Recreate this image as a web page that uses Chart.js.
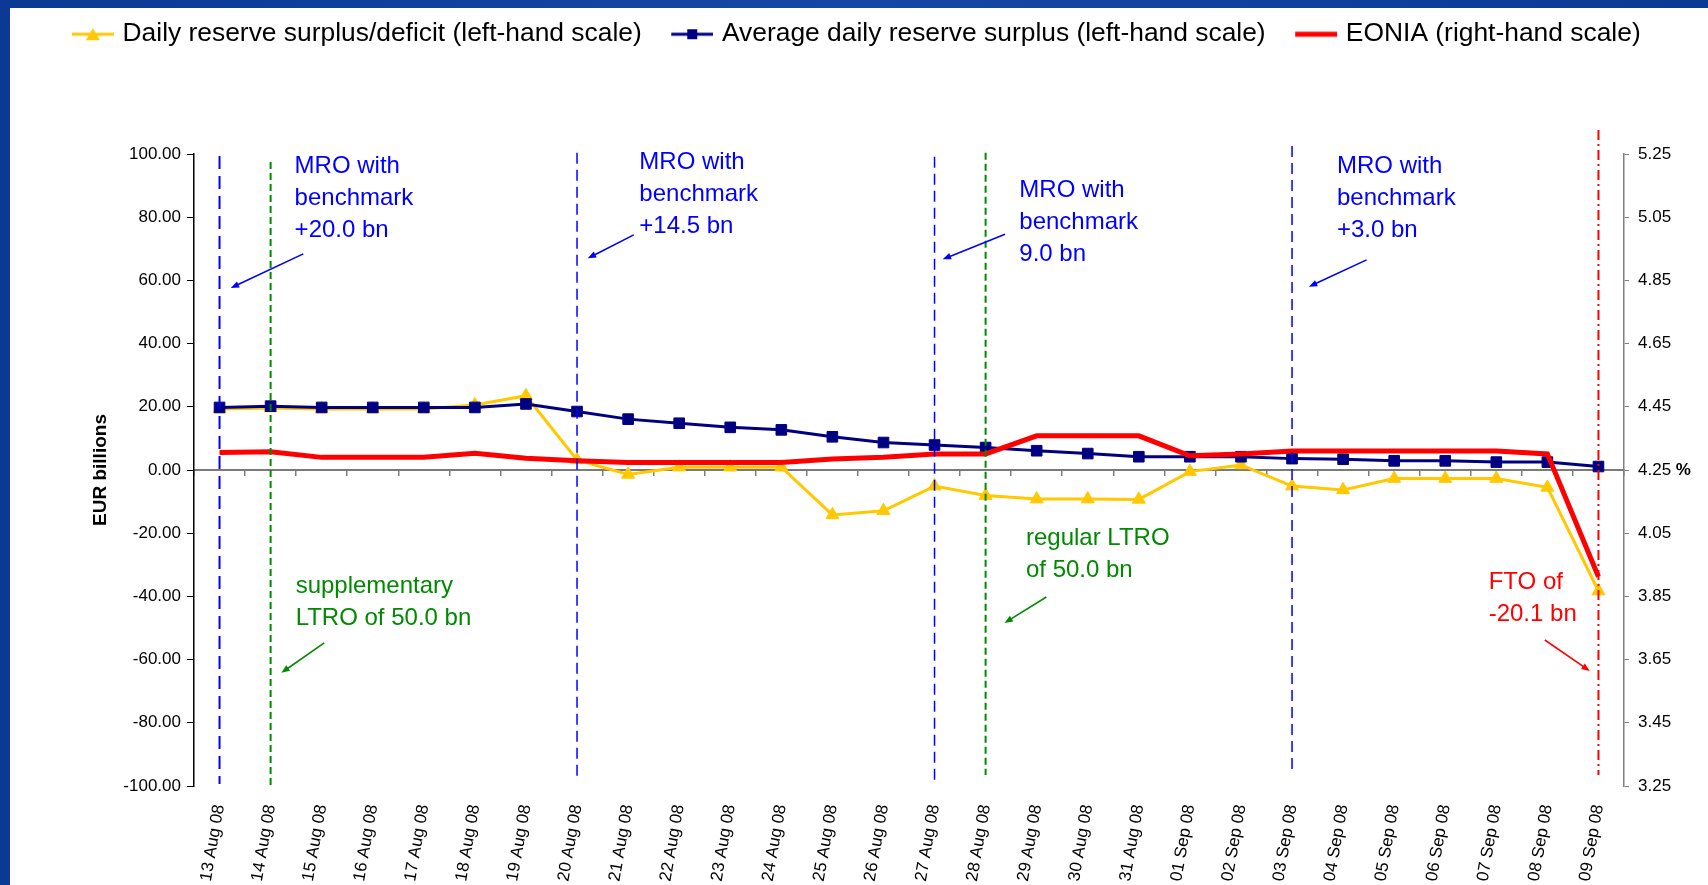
<!DOCTYPE html>
<html>
<head>
<meta charset="utf-8">
<script src="https://cdn.jsdelivr.net/npm/chart.js@4.4.1/dist/chart.umd.min.js"></script>
<style>
  html, body { margin: 0; padding: 0; }
  body {
    width: 1708px;
    height: 885px;
    overflow: hidden;
    background: linear-gradient(90deg, #0b3994, #1747a6 50%, #0b3994);
  }
  #panel {
    position: absolute;
    left: 10px;
    top: 8px;
    width: 1698px;
    height: 877px;
    background: #ffffff;
  }
  canvas { display: block; }
</style>
</head>
<body>
<div id="panel"><canvas id="reserve-chart" width="1698" height="877"></canvas></div>
<script>
const FONT = '"Liberation Sans", Arial, Helvetica, sans-serif';

const dateLabels = [
  "13 Aug 08", "14 Aug 08", "15 Aug 08", "16 Aug 08", "17 Aug 08", "18 Aug 08",
  "19 Aug 08", "20 Aug 08", "21 Aug 08", "22 Aug 08", "23 Aug 08", "24 Aug 08",
  "25 Aug 08", "26 Aug 08", "27 Aug 08", "28 Aug 08", "29 Aug 08", "30 Aug 08",
  "31 Aug 08", "01 Sep 08", "02 Sep 08", "03 Sep 08", "04 Sep 08", "05 Sep 08",
  "06 Sep 08", "07 Sep 08", "08 Sep 08", "09 Sep 08",
];

// EUR billions
const dailySurplus = [
  19.3, 19.6, 19.3, 19.3, 19.3, 20.6, 23.5, 3.2, -1.4, 0.9, 0.9, 0.9,
  -14.2, -12.9, -5.1, -8.1, -9.2, -9.2, -9.3, -0.5, 1.6, -5.1, -6.3, -2.7,
  -2.7, -2.7, -5.5, -38.3,
];
const averageSurplus = [
  19.8, 20.2, 19.8, 19.8, 19.8, 19.8, 20.9, 18.5, 16.1, 14.8, 13.5, 12.7,
  10.5, 8.7, 7.9, 7.1, 6.1, 5.2, 4.2, 4.2, 4.2, 3.6, 3.4, 2.9,
  2.9, 2.5, 2.5, 1.1,
];
// percent
const eoniaRate = [
  4.305, 4.308, 4.29, 4.29, 4.29, 4.303, 4.287, 4.279, 4.274, 4.274, 4.274, 4.274,
  4.285, 4.29, 4.301, 4.301, 4.358, 4.358, 4.358, 4.295, 4.301, 4.31, 4.31, 4.31,
  4.31, 4.31, 4.301, 3.912,
];

const leftTicks = [-100, -80, -60, -40, -20, 0, 20, 40, 60, 80, 100];
const rightTicks = [3.25, 3.45, 3.65, 3.85, 4.05, 4.25, 4.45, 4.65, 4.85, 5.05, 5.25];

const BLUE = "#0000FF";
const GREEN = "#008A00";
const RED = "#FF0000";

// vertical event lines: date, top and bottom in left-axis units
const eventLines = [
  { date: "13 Aug 08", top: 99.4, bottom: -99.4, color: BLUE, dash: [13, 7], width: 2 },
  { date: "14 Aug 08", top: 97.5, bottom: -99.7, color: GREEN, dash: [7, 4], width: 2 },
  { date: "20 Aug 08", top: 100.4, bottom: -98.6, color: BLUE, dash: [11, 6], width: 1.5 },
  { date: "27 Aug 08", top: 99.1, bottom: -99, color: BLUE, dash: [11, 6], width: 1.5 },
  { date: "28 Aug 08", top: 100.4, bottom: -96.5, color: GREEN, dash: [7, 4], width: 2 },
  { date: "03 Sep 08", top: 102.5, bottom: -95.9, color: BLUE, dash: [11, 6], width: 1.5 },
  { date: "09 Sep 08", top: 107.6, bottom: -96.5, color: RED, dash: [10, 4, 2, 4], width: 2 },
];

// notes: text anchor and arrow ends as [category index, left-axis value]
const eventNotes = [
  { lines: ["MRO with", "benchmark", "+20.0 bn"], color: BLUE, at: [1.47, 94.0], arrow: [[1.64, 68.4], [0.22, 57.6]] },
  { lines: ["MRO with", "benchmark", "+14.5 bn"], color: BLUE, at: [8.22, 95.2], arrow: [[8.11, 74.4], [7.21, 67.0]] },
  { lines: ["MRO with", "benchmark", "9.0 bn"], color: BLUE, at: [15.66, 86.5], arrow: [[15.38, 74.6], [14.16, 66.7]] },
  { lines: ["MRO with", "benchmark", "+3.0 bn"], color: BLUE, at: [21.88, 94.1], arrow: [[22.46, 66.5], [21.33, 58.0]] },
  { lines: ["supplementary", "LTRO of 50.0 bn"], color: GREEN, at: [1.49, -38.9], arrow: [[2.05, -54.7], [1.21, -64.2]] },
  { lines: ["regular LTRO", "of 50.0 bn"], color: GREEN, at: [15.79, -23.7], arrow: [[16.19, -40.2], [15.37, -48.4]] },
  { lines: ["FTO of", "-20.1 bn"], color: RED, at: [24.85, -37.7], arrow: [[25.95, -53.8], [26.83, -63.6]] },
];

// legend marker images (line with point); the image is centred on the
// 54px legend box, so the marker is drawn in its right part
const makeLegendMarker = (color, lineWidth, shape) => {
  const c = document.createElement("canvas");
  c.width = 63;
  c.height = 16;
  const g = c.getContext("2d");
  g.strokeStyle = color;
  g.fillStyle = color;
  g.lineWidth = lineWidth;
  g.beginPath();
  g.moveTo(21, 8);
  g.lineTo(63, 8);
  g.stroke();
  if (shape === "triangle") {
    g.beginPath();
    g.moveTo(42, 2);
    g.lineTo(49, 14);
    g.lineTo(35, 14);
    g.closePath();
    g.fill();
  } else if (shape === "rect") {
    g.fillRect(37, 3, 10, 10);
  }
  return c;
};

const legendMarkers = [
  makeLegendMarker("#FFC800", 3, "triangle"),
  makeLegendMarker("#000080", 3, "rect"),
  makeLegendMarker(RED, 5, null),
];

const legendSpacer = {
  id: "legendSpacer",
  beforeLayout(chart) {
    if (!chart.legend || chart.legend._patched) return;
    const fit = chart.legend.fit;
    chart.legend.fit = function () {
      fit.call(this);
      this.height = 146;
    };
    chart.legend._patched = true;
  },
};

const drawArrow = (ctx, x1, y1, x2, y2, color) => {
  const angle = Math.atan2(y2 - y1, x2 - x1);
  const head = 9;
  ctx.strokeStyle = color;
  ctx.fillStyle = color;
  ctx.lineWidth = 1.6;
  ctx.beginPath();
  ctx.moveTo(x1, y1);
  ctx.lineTo(x2 - Math.cos(angle) * head * 0.7, y2 - Math.sin(angle) * head * 0.7);
  ctx.stroke();
  ctx.beginPath();
  ctx.moveTo(x2, y2);
  ctx.lineTo(x2 - head * Math.cos(angle - 0.38), y2 - head * Math.sin(angle - 0.38));
  ctx.lineTo(x2 - head * Math.cos(angle + 0.38), y2 - head * Math.sin(angle + 0.38));
  ctx.closePath();
  ctx.fill();
};

const annotationPlugin = {
  id: "eventAnnotations",
  afterDatasetsDraw(chart) {
    const { ctx } = chart;
    const x = chart.scales.x;
    const y = chart.scales.y;
    ctx.save();

    eventLines.forEach((line) => {
      const px = x.getPixelForValue(dateLabels.indexOf(line.date));
      ctx.beginPath();
      ctx.setLineDash(line.dash);
      ctx.lineWidth = line.width;
      ctx.strokeStyle = line.color;
      ctx.moveTo(px, y.getPixelForValue(line.top));
      ctx.lineTo(px, y.getPixelForValue(line.bottom));
      ctx.stroke();
    });
    ctx.setLineDash([]);

    ctx.font = `24px ${FONT}`;
    ctx.textAlign = "left";
    ctx.textBaseline = "alphabetic";
    eventNotes.forEach((note) => {
      const px = x.getPixelForValue(note.at[0]);
      const py = y.getPixelForValue(note.at[1]);
      ctx.fillStyle = note.color;
      note.lines.forEach((text, i) => ctx.fillText(text, px, py + i * 32));
      const [from, to] = note.arrow;
      drawArrow(
        ctx,
        x.getPixelForValue(from[0]), y.getPixelForValue(from[1]),
        x.getPixelForValue(to[0]), y.getPixelForValue(to[1]),
        note.color
      );
    });

    // bold unit next to the 4.25 label of the right-hand scale
    const y1 = chart.scales.y1;
    ctx.font = `17px ${FONT}`;
    const labelWidth = ctx.measureText("4.25 ").width;
    ctx.font = `bold 17px ${FONT}`;
    ctx.fillStyle = "#000";
    ctx.textBaseline = "middle";
    ctx.fillText("%", y1.left + 5 + 9 + labelWidth, y1.getPixelForValue(4.25));

    ctx.restore();
  },
};

Chart.defaults.font.family = FONT;
Chart.defaults.color = "#000";

const canvas = document.getElementById("reserve-chart");

new Chart(canvas, {
  type: "line",
  data: {
    labels: dateLabels,
    datasets: [
      {
        label: "Daily reserve surplus/deficit (left-hand scale)",
        data: dailySurplus,
        borderColor: "#FFC800",
        backgroundColor: "#FFC800",
        borderWidth: 3,
        pointStyle: "triangle",
        pointRadius: 7.5,
        pointBorderWidth: 1,
        yAxisID: "y",
        order: 2,
      },
      {
        label: "Average daily reserve surplus (left-hand scale)",
        data: averageSurplus,
        borderColor: "#000080",
        backgroundColor: "#000080",
        borderWidth: 3,
        pointStyle: "rect",
        pointRadius: 7.5,
        pointBorderWidth: 1,
        yAxisID: "y",
        order: 1,
      },
      {
        label: "EONIA (right-hand scale)",
        data: eoniaRate,
        borderColor: RED,
        backgroundColor: RED,
        borderWidth: 5,
        pointRadius: 0,
        yAxisID: "y1",
        order: 0,
      },
    ],
  },
  options: {
    responsive: false,
    animation: false,
    devicePixelRatio: 1,
    layout: { padding: { left: 0, right: 22, top: 0, bottom: 0 } },
    plugins: {
      tooltip: { enabled: false },
      legend: {
        position: "top",
        labels: {
          usePointStyle: true,
          pointStyleWidth: 54,
          padding: 13,
          color: "#000",
          font: { family: FONT, size: 26.4 },
          sort: (a, b) => a.datasetIndex - b.datasetIndex,
          generateLabels(chart) {
            return Chart.defaults.plugins.legend.labels
              .generateLabels(chart)
              .map((item) => ({ ...item, pointStyle: legendMarkers[item.datasetIndex] }));
          },
        },
      },
    },
    scales: {
      x: {
        type: "category",
        position: "bottom",
        offset: true,
        grid: { display: false, drawTicks: false },
        border: { display: false },
        ticks: {
          autoSkip: false,
          minRotation: 80,
          maxRotation: 80,
          padding: 17,
          color: "#000",
          font: { family: FONT, size: 17 },
        },
        afterFit: (scale) => {
          scale.height = 99;
        },
      },
      xZero: {
        type: "category",
        position: { y: 0 },
        offset: true,
        grid: {
          display: true,
          offset: true,
          drawOnChartArea: false,
          drawTicks: true,
          tickLength: 5,
          color: "#808080",
          lineWidth: 1.5,
        },
        border: { display: true, color: "#7a7a7a", width: 2 },
        ticks: { display: false },
      },
      y: {
        type: "linear",
        position: "left",
        min: -100,
        max: 100,
        afterBuildTicks: (scale) => {
          scale.ticks = leftTicks.map((v) => ({ value: v }));
        },
        ticks: {
          callback: (v) => Number(v).toFixed(2),
          padding: 6,
          color: "#000",
          font: { family: FONT, size: 17 },
        },
        grid: { drawOnChartArea: false, tickLength: 7, color: "#000" },
        border: { color: "#000", width: 1.5 },
        title: {
          display: true,
          text: "EUR billions",
          color: "#000",
          font: { family: FONT, size: 19, weight: "bold" },
          padding: { top: 79, bottom: 0 },
        },
        afterFit: (scale) => {
          scale.width = 184;
        },
      },
      y1: {
        type: "linear",
        position: "right",
        min: 3.25,
        max: 5.25,
        afterBuildTicks: (scale) => {
          scale.ticks = rightTicks.map((v) => ({ value: v }));
        },
        ticks: {
          callback: (v) => Number(v).toFixed(2),
          padding: 9,
          color: "#000",
          font: { family: FONT, size: 17 },
        },
        grid: { drawOnChartArea: false, tickLength: 5, color: "#808080" },
        border: { color: "#808080", width: 1.5 },
        afterFit: (scale) => {
          scale.width = 62;
        },
      },
    },
  },
  plugins: [legendSpacer, annotationPlugin],
});
</script>
</body>
</html>
